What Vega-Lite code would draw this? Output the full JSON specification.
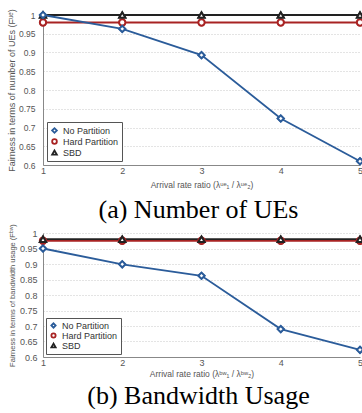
{
  "$schema": "https://vega.github.io/schema/vega-lite/v6.json",
  "autosize": {"type": "pad"},
  "padding": {"left": 7, "top": 7, "right": 0, "bottom": 0},
  "background": "white",
  "bounds": "flush",
  "spacing": 68,
  "datasets": {
    "ue": [
      {"series": "Hard Partition", "ratio": 1, "value": 0.98},
      {"series": "Hard Partition", "ratio": 2, "value": 0.98},
      {"series": "Hard Partition", "ratio": 3, "value": 0.98},
      {"series": "Hard Partition", "ratio": 4, "value": 0.98},
      {"series": "Hard Partition", "ratio": 5, "value": 0.98},
      {"series": "SBD", "ratio": 1, "value": 1.0},
      {"series": "SBD", "ratio": 2, "value": 1.0},
      {"series": "SBD", "ratio": 3, "value": 1.0},
      {"series": "SBD", "ratio": 4, "value": 1.0},
      {"series": "SBD", "ratio": 5, "value": 1.0},
      {"series": "No Partition", "ratio": 1, "value": 1.0},
      {"series": "No Partition", "ratio": 2, "value": 0.963},
      {"series": "No Partition", "ratio": 3, "value": 0.893},
      {"series": "No Partition", "ratio": 4, "value": 0.724},
      {"series": "No Partition", "ratio": 5, "value": 0.61}
    ],
    "bw": [
      {"series": "Hard Partition", "ratio": 1, "value": 0.975},
      {"series": "Hard Partition", "ratio": 2, "value": 0.975},
      {"series": "Hard Partition", "ratio": 3, "value": 0.975},
      {"series": "Hard Partition", "ratio": 4, "value": 0.975},
      {"series": "Hard Partition", "ratio": 5, "value": 0.975},
      {"series": "SBD", "ratio": 1, "value": 0.98},
      {"series": "SBD", "ratio": 2, "value": 0.98},
      {"series": "SBD", "ratio": 3, "value": 0.98},
      {"series": "SBD", "ratio": 4, "value": 0.98},
      {"series": "SBD", "ratio": 5, "value": 0.98},
      {"series": "No Partition", "ratio": 1, "value": 0.95},
      {"series": "No Partition", "ratio": 2, "value": 0.899},
      {"series": "No Partition", "ratio": 3, "value": 0.862},
      {"series": "No Partition", "ratio": 4, "value": 0.69},
      {"series": "No Partition", "ratio": 5, "value": 0.623}
    ]
  },
  "config": {
    "font": "Liberation Sans",
    "view": {"stroke": null},
    "axis": {
      "domainColor": "#888",
      "labelColor": "#555",
      "titleColor": "#555",
      "titleFontWeight": "normal",
      "ticks": false,
      "gridColor": "#c8c8c8",
      "gridDash": [1, 2]
    },
    "legend": {
      "orient": "bottom-left",
      "offset": 4,
      "strokeColor": "#555",
      "fillColor": "white",
      "padding": 3,
      "labelColor": "#333",
      "symbolStrokeWidth": 1.8,
      "title": null
    },
    "title": {"font": "Liberation Serif", "fontSize": 26, "fontWeight": "normal", "color": "black", "orient": "bottom", "anchor": "middle", "frame": "group"}
  },
  "vconcat": [
    {
      "width": 317,
      "height": 150,
      "data": {"name": "ue"},
      "title": {"text": "(a) Number of UEs", "offset": 8, "dx": -3},
      "encoding": {
        "x": {"field": "ratio", "type": "quantitative", "scale": {"domain": [1, 5], "nice": false},
          "axis": {"values": [1, 2, 3, 4, 5], "format": "d", "grid": false, "labelFlush": false, "labelFontSize": 9, "labelPadding": 1,
            "title": "Arrival rate ratio (λᵘᵉ₁ / λᵘᵉ₂)", "titleFontSize": 8.5, "titlePadding": 5}},
        "y": {"field": "value", "type": "quantitative", "scale": {"domain": [0.6, 1], "nice": false, "zero": false},
          "axis": {"values": [0.6, 0.65, 0.7, 0.75, 0.8, 0.85, 0.9, 0.95, 1], "format": ".2~f", "labelFontSize": 8.5, "labelPadding": 8,
            "title": "Fairness in terms of number of UEs (Fᵘᵉ)", "titleFontSize": 9, "titlePadding": 2}},
        "stroke": {"field": "series", "type": "nominal",
          "scale": {"domain": ["No Partition", "Hard Partition", "SBD"], "range": ["#2b5c9a", "#a82323", "#222222"]},
          "legend": {"labelFontSize": 9, "symbolSize": 22, "rowPadding": 0, "clipHeight": 11,
            "encode": {"symbols": {"update": {"fill": {"value": "white"}}}}}},
        "shape": {"field": "series", "type": "nominal",
          "scale": {"domain": ["No Partition", "Hard Partition", "SBD"], "range": ["diamond", "circle", "triangle-up"]},
          "legend": {"labelFontSize": 9, "symbolSize": 22, "rowPadding": 0, "clipHeight": 11,
            "encode": {"symbols": {"update": {"fill": {"value": "white"}}}}}}
      },
      "layer": [
        {"mark": {"type": "line", "strokeWidth": 1.8}},
        {"mark": {"type": "point", "filled": true, "fill": "white", "fillOpacity": 1, "opacity": 1, "size": 40, "strokeWidth": 2}}
      ]
    },
    {
      "width": 317,
      "height": 124,
      "data": {"name": "bw"},
      "title": {"text": "(b) Bandwidth Usage", "offset": 5, "dx": -3},
      "encoding": {
        "x": {"field": "ratio", "type": "quantitative", "scale": {"domain": [1, 5], "nice": false},
          "axis": {"values": [1, 2, 3, 4, 5], "format": "d", "grid": false, "labelFlush": false, "labelFontSize": 9, "labelPadding": 1,
            "title": "Arrival rate ratio (λᵇʷ₁ / λᵇʷ₂)", "titleFontSize": 8.5, "titlePadding": 2}},
        "y": {"field": "value", "type": "quantitative", "scale": {"domain": [0.6, 1], "nice": false, "zero": false},
          "axis": {"values": [0.6, 0.65, 0.7, 0.75, 0.8, 0.85, 0.9, 0.95, 1], "format": ".2~f", "labelFontSize": 9, "labelPadding": 6,
            "title": "Fairness in terms of bandwidth usage (Fᵇʷ)", "titleFontSize": 7.5, "titlePadding": 3}},
        "stroke": {"field": "series", "type": "nominal",
          "scale": {"domain": ["No Partition", "Hard Partition", "SBD"], "range": ["#2b5c9a", "#a82323", "#222222"]},
          "legend": {"labelFontSize": 9, "symbolSize": 18, "rowPadding": 0, "clipHeight": 9, "offset": 3,
            "encode": {"symbols": {"update": {"fill": {"value": "white"}}}}}},
        "shape": {"field": "series", "type": "nominal",
          "scale": {"domain": ["No Partition", "Hard Partition", "SBD"], "range": ["diamond", "circle", "triangle-up"]},
          "legend": {"labelFontSize": 9, "symbolSize": 18, "rowPadding": 0, "clipHeight": 9, "offset": 3,
            "encode": {"symbols": {"update": {"fill": {"value": "white"}}}}}}
      },
      "layer": [
        {"mark": {"type": "line", "strokeWidth": 1.8}},
        {"mark": {"type": "point", "filled": true, "fill": "white", "fillOpacity": 1, "opacity": 1, "size": 40, "strokeWidth": 2}}
      ]
    }
  ],
  "resolve": {"scale": {"stroke": "independent", "shape": "independent"}, "legend": {"stroke": "independent", "shape": "independent"}}
}
